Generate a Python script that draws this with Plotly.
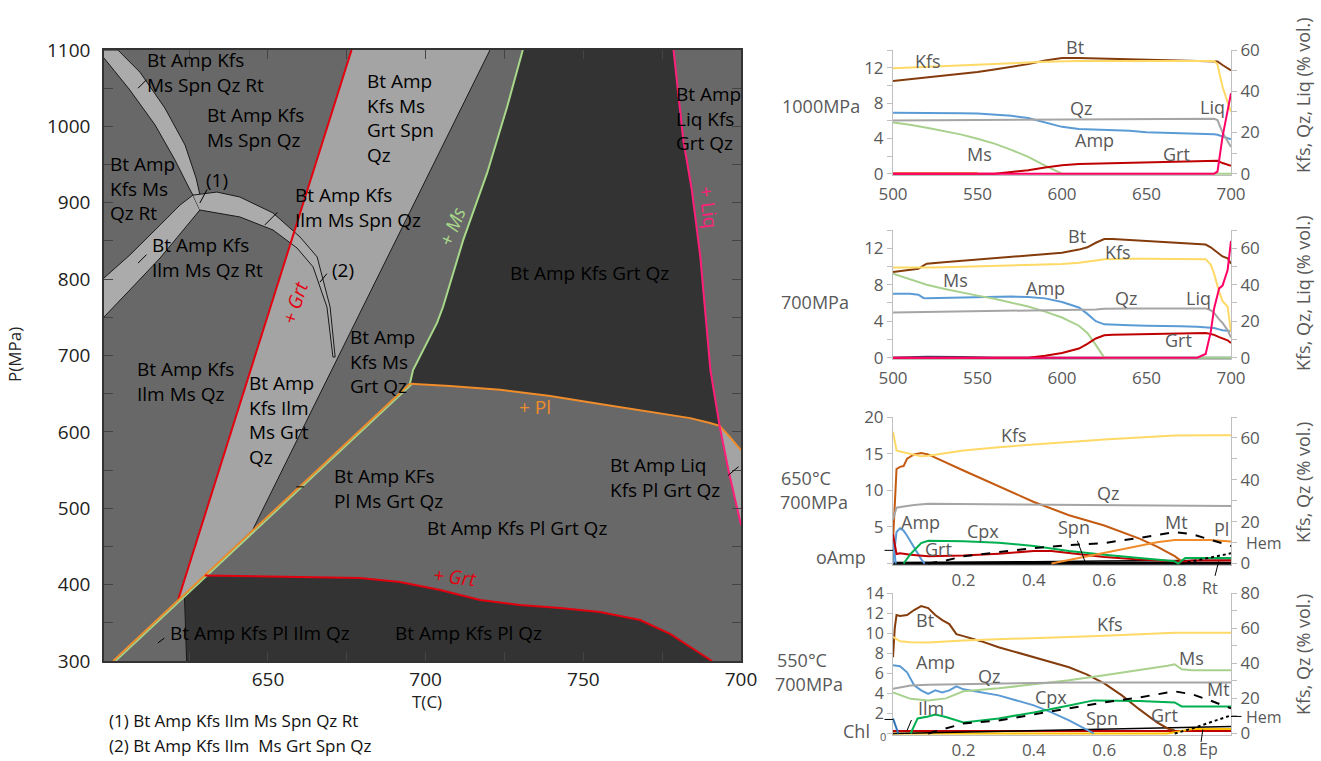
import plotly.graph_objects as go

FONT = "Open Sans"
W, H = 1321, 761

# ================= Phase diagram data (T in C, P in MPa) =================
GRT_HI_T = [621.5, 676.5]
GRT_HI_P = [380, 1100]
PL_DIAG_T = [600.9, 695.0]
PL_DIAG_P = [300, 663]
MS_T = [695.0, 696.0, 703.6, 705.5, 711.9, 719.5, 725.8, 730.8]
MS_P = [663, 681, 742.6, 763.5, 851, 939, 1025, 1100]
SPN_T = [645.3, 720.4]
SPN_P = [473, 1100]
PL_TOP_T = [695.0, 707.7, 723.6, 739.5, 755.3, 771.2, 783.9, 790.2, 793.2, 796.5, 800]
PL_TOP_P = [663, 660, 655, 647, 636.5, 626, 618, 611.6, 608, 593, 576]
LIQ_T = [778.6, 781.7, 784.4, 787.1, 790.3, 793.2, 796.0, 800]
LIQ_P = [1100, 982, 916.7, 829.4, 681, 608, 550, 478]
GRT_LO_T = [630.0, 660.2, 679.2, 691.9, 704.6, 717.3, 729.9, 742.6, 755.3, 768.0, 777.5, 785.4, 790.8]
GRT_LO_P = [412, 410, 408.7, 403.5, 393, 380, 373.3, 369.4, 364.2, 353.7, 335.4, 314.4, 300]
ILM_OUT_T = [623.5, 624.2]
ILM_OUT_P = [387, 300]

BAND1_A_T = [598, 606.2, 614.2, 620.5, 625.3, 628.1]
BAND1_A_P = [1089.5, 1047.6, 1001.8, 956, 916.7, 897]
BAND1_B_T = [602.4, 609.4, 617.3, 623.7, 627.2, 628.8]
BAND1_B_P = [1100, 1071, 1024, 975.6, 932.4, 903.6]
BAND2_A_T = [598, 606.2, 615.8, 622.1, 626.2]
BAND2_A_P = [801.5, 831.6, 870.9, 897, 910]
BAND2_B_T = [598, 606.2, 615.8, 623.7, 628.4]
BAND2_B_P = [750.4, 785.8, 827.7, 867, 890.5]
BAND3_A_T = [626.2, 633.8, 641.1, 651.6, 660.2, 665.6, 669.7, 671.3]
BAND3_A_P = [910, 914, 907.5, 886.6, 855, 829, 763.5, 698]
BAND3_B_T = [628.4, 641.1, 651.6, 659.2, 664.3, 668.7, 670.6]
BAND3_B_P = [890.5, 881.4, 864.3, 840.8, 816, 763.5, 698]

T_TICKS = [625, 650, 675, 700, 725, 750, 775, 800]
T_TICKTEXT = ["", "650", "", "700", "", "750", "", "700"]
P_TICKS = [300, 350, 400, 450, 500, 550, 600, 650, 700, 750, 800, 850, 900, 950, 1000, 1050, 1100]
P_TICKTEXT = ["300", "", "400", "", "500", "", "600", "", "700", "", "800", "", "900", "", "1000", "", "1100"]

# ================= Panel 1: 1000 MPa =================
T1 = [500, 510, 520, 530, 540, 550, 560, 570, 580, 590, 600, 610, 620, 630, 640, 650, 660, 670, 680, 690, 692, 695, 700]
BT_1000 = [10.5, 10.7, 10.9, 11.1, 11.3, 11.5, 11.8, 12.1, 12.4, 12.8, 13.1, 13.1, 13.05, 13.0, 12.95, 12.9, 12.9, 12.85, 12.8, 12.75, 12.7, 12.3, 11.7]
KFS_1000 = [51.2, 51.5, 51.8, 52.1, 52.4, 52.7, 53.0, 53.4, 53.9, 54.3, 54.6, 54.7, 54.7, 54.7, 54.7, 54.7, 54.7, 54.7, 54.7, 54.7, 53.0, 42.0, 30.0]
QZ_1000 = [25.8, 25.85, 25.9, 25.95, 26.0, 26.05, 26.1, 26.15, 26.2, 26.25, 26.3, 26.35, 26.4, 26.4, 26.45, 26.45, 26.5, 26.5, 26.5, 26.6, 26.0, 20.0, 13.0]
AMP_1000 = [6.9, 6.9, 6.9, 6.85, 6.85, 6.8, 6.7, 6.55, 6.3, 5.8, 5.3, 5.05, 5.0, 4.9, 4.85, 4.7, 4.65, 4.6, 4.55, 4.45, 4.4, 4.2, 3.9]
MS_1000 = [5.8, 5.55, 5.2, 4.85, 4.45, 3.95, 3.4, 2.7, 1.9, 0.9, 0.0, 0, 0, 0, 0, 0, 0, 0, 0, 0, 0, 0, 0]
GRT_1000 = [0, 0, 0, 0, 0, 0, 0, 0.2, 0.4, 0.7, 0.95, 1.1, 1.15, 1.2, 1.25, 1.3, 1.35, 1.4, 1.45, 1.5, 1.45, 1.2, 0.9]
LIQ_1000 = [0, 0, 0, 0, 0, 0, 0, 0, 0, 0, 0, 0, 0, 0, 0, 0, 0, 0, 0, 0, 1, 18, 39]
PL_1000_T = [500, 550]
PL_1000 = [0.05, 0.05]

# ================= Panel 2: 700 MPa =================
T2 = [500, 510, 515, 518, 520, 530, 540, 550, 560, 570, 580, 590, 600, 610, 615, 620, 625, 630, 640, 650, 660, 670, 680, 685, 688, 690, 693, 695, 698, 700]
BT_700 = [9.4, 9.6, 9.75, 10.1, 10.3, 10.45, 10.6, 10.75, 10.9, 11.0, 11.15, 11.3, 11.5, 11.85, 12.1, 12.6, 13.0, 13.0, 12.9, 12.8, 12.7, 12.6, 12.5, 12.4, 12.1, 11.8, 11.3, 11.1, 10.9, 10.3]
KFS_700 = [49.5, 49.3, 49.2, 49.3, 49.4, 49.6, 49.8, 50.0, 50.2, 50.4, 50.7, 51.0, 51.4, 52.0, 52.5, 53.3, 54.0, 54.2, 54.2, 54.2, 54.2, 54.2, 54.2, 54.0, 51.0, 46.0, 36.0, 31.0, 28.0, 14.0]
MS_700 = [9.2, 8.6, 8.3, 8.15, 8.0, 7.55, 7.15, 6.8, 6.45, 6.05, 5.6, 5.05, 4.4, 3.5, 2.7, 1.4, 0, 0, 0, 0, 0, 0, 0, 0, 0, 0, 0, 0, 0, 0]
AMP_700 = [7.0, 7.0, 6.9, 6.55, 6.5, 6.55, 6.6, 6.65, 6.7, 6.7, 6.65, 6.5, 6.1, 5.5, 4.8, 4.0, 3.65, 3.6, 3.55, 3.5, 3.5, 3.45, 3.4, 3.35, 3.3, 3.25, 3.1, 3.0, 2.95, 2.9]
QZ_700 = [24.8, 24.9, 24.95, 25.0, 25.0, 25.1, 25.2, 25.3, 25.4, 25.5, 25.6, 25.7, 25.8, 26.0, 26.2, 26.4, 26.8, 27.0, 27.0, 27.0, 27.0, 27.0, 27.0, 27.0, 26.0, 24.5, 21.0, 19.0, 15.0, 11.0]
GRT_700 = [0, 0, 0, 0, 0, 0, 0, 0, 0, 0, 0, 0.2, 0.5, 1.0, 1.5, 2.1, 2.45, 2.5, 2.55, 2.6, 2.65, 2.7, 2.75, 2.7, 2.6, 2.5, 2.25, 2.1, 1.9, 1.6]
LIQ_700 = [0, 0, 0, 0, 0, 0, 0, 0, 0, 0, 0, 0, 0, 0, 0, 0, 0, 0, 0, 0, 0, 0, 0, 2, 14, 27, 38, 39.5, 48, 64]
ILM_700_T = [500, 520, 540, 560, 700]
ILM_700 = [0.0, 0.1, 0.08, 0.0, 0.0]

# ================= Panel 3: 650 C, 700 MPa =================
KFS3_X = [0, 0.01, 0.02, 0.05, 0.08, 0.1, 0.2, 0.3, 0.4, 0.5, 0.6, 0.7, 0.8, 0.9, 0.96]
KFS3 = [63, 54, 53.5, 52.3, 51.2, 51.5, 54, 55.6, 57, 58.1, 59.2, 60.2, 61.2, 61.3, 61.3]
BT3_X = [0, 0.005, 0.01, 0.02, 0.03, 0.04, 0.06, 0.08, 0.1, 0.2, 0.3, 0.4, 0.5, 0.6, 0.7, 0.75, 0.8, 0.82]
BT3 = [3, 9, 12.9, 13.2, 13.3, 14.3, 14.9, 15.1, 14.9, 12.7, 10.5, 8.4, 6.6, 5.2, 3.4, 2.3, 1.0, 0.3]
QZ3_X = [0, 0.01, 0.03, 0.06, 0.1, 0.3, 0.5, 0.7, 0.96]
QZ3 = [21, 26.7, 27.2, 28, 28.5, 28.3, 28, 27.7, 27.5]
AMP3_X = [0, 0.01, 0.02, 0.03, 0.04, 0.06, 0.08, 0.09]
AMP3 = [0, 4.3, 4.8, 4.5, 3.8, 2.2, 0.6, 0]
OAMP3_X = [0, 0.004, 0.008]
OAMP3 = [3.2, 1.5, 0]
GRT3_X = [0, 0.01, 0.02, 0.05, 0.1, 0.2, 0.3, 0.4, 0.45, 0.5, 0.6, 0.7, 0.8, 0.82, 0.85, 0.96]
GRT3 = [4.0, 1.3, 1.4, 1.2, 1.0, 1.1, 1.35, 1.7, 1.7, 1.45, 0.9, 0.55, 0.3, 0.25, 0.4, 0.4]
CPX3_X = [0.03, 0.05, 0.08, 0.1, 0.2, 0.3, 0.4, 0.5, 0.6, 0.7, 0.8, 0.81, 0.83, 0.96]
CPX3 = [0, 1.3, 2.8, 3.1, 3.05, 2.85, 2.4, 1.7, 1.2, 0.75, 0.3, 0, 0.75, 0.75]
MT3_X = [0.1, 0.15, 0.2, 0.3, 0.4, 0.5, 0.6, 0.7, 0.8, 0.85, 0.9, 0.96]
MT3 = [0, 0.4, 1.0, 1.6, 2.1, 2.5, 2.8, 3.5, 4.3, 4.0, 3.3, 2.4]
PL3_X = [0.45, 0.5, 0.6, 0.7, 0.75, 0.8, 0.9, 0.96]
PL3 = [0, 0.5, 1.5, 2.4, 2.9, 3.2, 3.2, 3.0]
HEM3_X = [0.82, 0.86, 0.9, 0.96]
HEM3 = [0, 0.4, 0.8, 1.4]
SPN3_X = [0, 0.2, 0.4, 0.6, 0.8, 0.96]
SPN3 = [0.1, 0.15, 0.25, 0.35, 0.4, 0.45]
RT3_X = [0, 0.96]
RT3 = [0.05, 0.05]

# ================= Panel 4: 550 C, 700 MPa =================
BT4_X = [0, 0.005, 0.01, 0.02, 0.04, 0.06, 0.08, 0.1, 0.12, 0.14, 0.16, 0.18, 0.2, 0.25, 0.3, 0.4, 0.5, 0.55, 0.6, 0.65, 0.7, 0.75, 0.78, 0.8]
BT4 = [7.6, 10.5, 11.8, 11.7, 11.8, 12.3, 12.7, 12.5, 11.8, 11.3, 10.9, 9.9, 9.7, 9.2, 8.6, 7.6, 6.6, 5.9, 5.0, 3.8, 2.4, 1.1, 0.5, 0.3]
KFS4_X = [0, 0.02, 0.05, 0.1, 0.2, 0.3, 0.4, 0.5, 0.6, 0.7, 0.8, 0.9, 0.96]
KFS4 = [55, 52.5, 52, 51.8, 53, 53.8, 54.5, 55, 55.7, 56.5, 57.3, 57.3, 57.3]
MS4_X = [0, 0.05, 0.1, 0.15, 0.2, 0.3, 0.4, 0.5, 0.6, 0.7, 0.78, 0.8, 0.82, 0.85, 0.96]
MS4 = [4.1, 3.45, 3.3, 3.5, 4.2, 4.5, 4.9, 5.3, 5.8, 6.3, 6.75, 6.9, 6.4, 6.3, 6.3]
AMP4_X = [0, 0.02, 0.04, 0.06, 0.08, 0.1, 0.12, 0.14, 0.16, 0.18, 0.2, 0.3, 0.4, 0.45, 0.5, 0.55, 0.57]
AMP4 = [6.8, 6.7, 6.1, 4.8, 4.3, 3.95, 4.3, 4.1, 4.3, 4.7, 4.4, 3.8, 2.8, 2.1, 1.3, 0.4, 0]
QZ4_X = [0, 0.05, 0.1, 0.3, 0.5, 0.96]
QZ4 = [25.5, 27.3, 27.8, 28.5, 29, 29]
CPX4_X = [0.05, 0.07, 0.1, 0.12, 0.15, 0.2, 0.3, 0.4, 0.5, 0.57, 0.7, 0.8, 0.82, 0.96]
CPX4 = [0, 1.5, 1.7, 1.9, 1.65, 1.1, 1.5, 2.1, 2.8, 3.3, 3.25, 3.1, 2.7, 2.7]
MT4_X = [0.1, 0.15, 0.2, 0.3, 0.4, 0.5, 0.6, 0.7, 0.8, 0.85, 0.9, 0.96]
MT4 = [0, 0.5, 1.0, 1.3, 1.9, 2.5, 3.1, 3.6, 4.2, 3.9, 3.3, 2.5]
HEM4_X = [0.8, 0.85, 0.9, 0.96]
HEM4 = [0, 0.5, 1.1, 1.8]
SPN4_X = [0, 0.2, 0.4, 0.6, 0.8, 0.96]
SPN4 = [0, 0.15, 0.3, 0.45, 0.6, 0.7]
GRT4_X = [0, 0.96]
GRT4 = [0.25, 0.25]
EP4_X = [0, 0.78, 0.85, 0.96]
EP4 = [0, 0, 0.45, 0.45]
CHL4_X = [0, 0.015]
CHL4 = [1.5, 0]

# ================= colours =================
C_MED, C_LIGHT, C_DARK, C_BAND = "#686868", "#a4a4a4", "#333333", "#ababab"
C_RED, C_GREEN, C_ORANGE, C_PINK = "#e3000f", "#a8d88a", "#f08c2a", "#ff1f7a"
C_KFS, C_BT, C_QZ, C_AMP = "#ffd966", "#843c0c", "#a5a5a5", "#5b9bd5"
C_MS, C_GRT, C_LIQ, C_CPX = "#a9d18e", "#c00000", "#ff0066", "#00b050"
C_TXT = "#595959"

fig = go.Figure()


def add_line(x, y, color, width=2, xa="x", ya="y", dash=None):
    fig.add_trace(go.Scatter(x=x, y=y, mode="lines", xaxis=xa, yaxis=ya,
                             line=dict(color=color, width=width, dash=dash),
                             hoverinfo="skip", showlegend=False))


def add_poly(xs, ys, fill, outline=None, width=0):
    fig.add_trace(go.Scatter(x=xs, y=ys, mode="lines", fill="toself", fillcolor=fill,
                             line=dict(color=outline or fill, width=width),
                             xaxis="x", yaxis="y", hoverinfo="skip", showlegend=False))


# ---- phase diagram regions ----
add_poly([GRT_HI_T[0], GRT_HI_T[1], SPN_T[1], SPN_T[0]],
         [GRT_HI_P[0], GRT_HI_P[1], SPN_P[1], SPN_P[0]], C_LIGHT)
add_poly(MS_T + LIQ_T[:6] + PL_TOP_T[7::-1], MS_P + LIQ_P[:6] + PL_TOP_P[7::-1], C_DARK)
add_poly(PL_TOP_T[8:] + LIQ_T[:5:-1], PL_TOP_P[8:] + LIQ_P[:5:-1], C_LIGHT)
add_poly([ILM_OUT_T[0]] + GRT_LO_T + [ILM_OUT_T[1]], [ILM_OUT_P[0]] + GRT_LO_P + [ILM_OUT_P[1]], C_DARK)
add_poly(BAND1_A_T + BAND1_B_T[::-1] + [598], BAND1_A_P + BAND1_B_P[::-1] + [1100], C_BAND, "#1a1a1a", 1)
add_poly(BAND2_A_T + BAND2_B_T[::-1], BAND2_A_P + BAND2_B_P[::-1], C_BAND, "#1a1a1a", 1)
add_poly(BAND3_A_T + BAND3_B_T[::-1], BAND3_A_P + BAND3_B_P[::-1], C_BAND, "#1a1a1a", 1)

# ---- phase diagram boundaries ----
add_line(SPN_T, SPN_P, "#1a1a1a", 1)
add_line(ILM_OUT_T, ILM_OUT_P, "#1a1a1a", 1)
add_line(GRT_HI_T, GRT_HI_P, C_RED, 2)
add_line(PL_DIAG_T, PL_DIAG_P, C_ORANGE, 2)
add_line([t + 0.8 for t in PL_DIAG_T], PL_DIAG_P, C_GREEN, 1.5)
add_line(MS_T, MS_P, C_GREEN, 2)
add_line(PL_TOP_T, PL_TOP_P, C_ORANGE, 2)
add_line(LIQ_T, LIQ_P, C_PINK, 2)
add_line(GRT_LO_T, GRT_LO_P, C_RED, 2)

# ---- panel 1 ----
add_line(T1, BT_1000, C_BT, 2, "x2", "y2")
add_line(T1, AMP_1000, C_AMP, 2, "x2", "y2")
add_line(T1, MS_1000, C_MS, 2, "x2", "y2")
add_line(PL_1000_T, PL_1000, C_ORANGE, 2, "x2", "y2")
add_line(T1, GRT_1000, C_GRT, 2, "x2", "y2")
add_line(T1, KFS_1000, C_KFS, 2, "x2", "y3")
add_line(T1, QZ_1000, C_QZ, 2, "x2", "y3")
add_line(T1, LIQ_1000, C_LIQ, 2, "x2", "y3")

# ---- panel 2 ----
add_line(ILM_700_T, ILM_700, "#1f4e79", 2, "x3", "y4")
add_line(T2, BT_700, C_BT, 2, "x3", "y4")
add_line(T2, AMP_700, C_AMP, 2, "x3", "y4")
add_line(T2, MS_700, C_MS, 2, "x3", "y4")
add_line(T2, GRT_700, C_GRT, 2, "x3", "y4")
add_line(T2, KFS_700, C_KFS, 2, "x3", "y5")
add_line(T2, QZ_700, C_QZ, 2, "x3", "y5")
add_line(T2, LIQ_700, C_LIQ, 2, "x3", "y5")

# ---- panel 3 ----
add_line(RT3_X, RT3, "#000000", 3, "x4", "y6")
add_line(SPN3_X, SPN3, "#000000", 1.5, "x4", "y6")
add_line(BT3_X, BT3, "#c55a11", 2, "x4", "y6")
add_line(OAMP3_X, OAMP3, C_AMP, 2, "x4", "y6")
add_line(AMP3_X, AMP3, C_AMP, 2, "x4", "y6")
add_line(GRT3_X, GRT3, C_GRT, 2, "x4", "y6")
add_line(CPX3_X, CPX3, C_CPX, 2, "x4", "y6")
add_line(PL3_X, PL3, C_ORANGE, 2, "x4", "y6")
add_line(MT3_X, MT3, "#000000", 2, "x4", "y6", "dash")
add_line(HEM3_X, HEM3, "#000000", 2, "x4", "y6", "dot")
add_line(KFS3_X, KFS3, C_KFS, 2, "x4", "y7")
add_line(QZ3_X, QZ3, C_QZ, 2, "x4", "y7")

# ---- panel 4 ----
add_line(GRT4_X, GRT4, C_GRT, 2, "x5", "y8")
add_line(EP4_X, EP4, "#ffc000", 2, "x5", "y8")
add_line(SPN4_X, SPN4, "#000000", 1.5, "x5", "y8")
add_line(CHL4_X, CHL4, "#2e75b6", 2, "x5", "y8")
add_line(BT4_X, BT4, C_BT, 2, "x5", "y8")
add_line(AMP4_X, AMP4, C_AMP, 2, "x5", "y8")
add_line(MS4_X, MS4, C_MS, 2, "x5", "y8")
add_line(CPX4_X, CPX4, C_CPX, 2, "x5", "y8")
add_line(MT4_X, MT4, "#000000", 2, "x5", "y8", "dash")
add_line(HEM4_X, HEM4, "#000000", 2, "x5", "y8", "dot")
add_line(KFS4_X, KFS4, C_KFS, 2, "x5", "y9")
add_line(QZ4_X, QZ4, C_QZ, 2, "x5", "y9")

# ================= annotations =================
ann = []


def txt(x, y, text, xref="x", yref="y", size=19, color="black", xanchor="center",
        angle=0, align="center", italic=False):
    if italic:
        text = "<i>" + text + "</i>"
    ann.append(dict(x=x, y=y, xref=xref, yref=yref, text=text, showarrow=False,
                    font=dict(family=FONT, size=size, color=color), xanchor=xanchor,
                    yanchor="middle", textangle=angle, align=align))


def ptxt(px, py, text, size=18, color=C_TXT, xanchor="center", angle=0):
    txt(px / W, 1 - py / H, text, "paper", "paper", size, color, xanchor, angle)


def lead(x, y, ax, ay, xref="x", yref="y", color="black"):
    ann.append(dict(x=x, y=y, xref=xref, yref=yref, text="", showarrow=True,
                    arrowhead=0, arrowwidth=1, arrowcolor=color, ax=ax, ay=ay))


# phase diagram labels
txt(611, 1070.5, "Bt Amp Kfs<br>Ms Spn Qz Rt", xanchor="left", align="left")
txt(630, 998, "Bt Amp Kfs<br>Ms Spn Qz", xanchor="left", align="left")
txt(599.3, 919, "Bt Amp<br>Kfs Ms<br>Qz Rt", xanchor="left", align="left")
txt(633.7, 930, "(1)")
txt(612.6, 828.3, "Bt Amp Kfs<br>Ilm Ms Qz Rt", xanchor="left", align="left")
txt(673.9, 812, "(2)")
txt(658, 893.8, "Bt Amp Kfs<br>Ilm Ms Spn Qz", xanchor="left", align="left")
txt(680.8, 1011, "Bt Amp<br>Kfs Ms<br>Grt Spn<br>Qz", xanchor="left", align="left")
txt(752, 808.4, "Bt Amp Kfs Grt Qz")
txt(778.6, 1010.6, "Bt Amp<br>Liq Kfs<br>Grt Qz", xanchor="left", align="left")
txt(675.4, 691.5, "Bt Amp<br>Kfs Ms<br>Grt Qz", xanchor="left", align="left")
txt(607.8, 666.6, "Bt Amp Kfs<br>Ilm Ms Qz", xanchor="left", align="left")
txt(643.4, 615.6, "Bt Amp<br>Kfs Ilm<br>Ms Grt<br>Qz", xanchor="left", align="left")
txt(670.3, 526, "Bt Amp KFs<br>Pl Ms Grt Qz", xanchor="left", align="left")
txt(729, 474.2, "Bt Amp Kfs Pl Grt Qz")
txt(757.8, 540.3, "Bt Amp Liq<br>Kfs Pl Grt Qz", xanchor="left", align="left")
txt(618.3, 336.7, "Bt Amp Kfs Pl Ilm Qz", xanchor="left")
txt(689.7, 336.7, "Bt Amp Kfs Pl Qz", xanchor="left")
txt(658.6, 768.4, "+ Grt", color=C_RED, angle=-72, italic=True)
txt(708.3, 868.7, "+ Ms", color=C_GREEN, angle=-68, italic=True)
txt(789.7, 894.8, "+ Liq", color=C_PINK, angle=83)
txt(734.7, 632.6, "+ Pl", color=C_ORANGE)
txt(709.3, 410, "+ Grt", color=C_RED, angle=6, italic=True)
lead(628.4, 899.7, 8, -15)
lead(608.8, 1050, 10, -10)
lead(608.8, 821, 10, -10)
lead(649.0, 871, 14, -14)
lead(666.5, 796, 8, -10)
lead(659.0, 528, 9, 0)
lead(615.1, 323.6, 8, -6)
lead(795.9, 543, 12, -10)

ptxt(15, 355, "P(MPa)", 17, "#222", angle=-90)
ptxt(427, 701, "T(C)", 17, "#222")
ptxt(107, 720, "(1) Bt Amp Kfs Ilm Ms Spn Qz Rt", 17, "#111", xanchor="left")
ptxt(107, 745, "(2) Bt Amp Kfs Ilm  Ms Grt Spn Qz", 17, "#111", xanchor="left")

# panel 1 labels
RS = 18
txt(521, 12.8, "Kfs", "x2", "y2", RS, C_TXT)
ptxt(1075, 47, "Bt")
txt(611, 7.4, "Qz", "x2", "y2", RS, C_TXT)
txt(689, 7.6, "Liq", "x2", "y2", RS, C_TXT)
txt(619, 3.8, "Amp", "x2", "y2", RS, C_TXT)
txt(551, 2.2, "Ms", "x2", "y2", RS, C_TXT)
txt(668, 2.2, "Grt", "x2", "y2", RS, C_TXT)
ptxt(821, 106, "1000MPa")
# panel 2 labels
txt(609, 13.3, "Bt", "x3", "y4", RS, C_TXT)
txt(633, 11.6, "Kfs", "x3", "y4", RS, C_TXT)
txt(537, 8.5, "Ms", "x3", "y4", RS, C_TXT)
txt(590, 7.6, "Amp", "x3", "y4", RS, C_TXT)
txt(638, 6.5, "Qz", "x3", "y4", RS, C_TXT)
txt(681, 6.5, "Liq", "x3", "y4", RS, C_TXT)
txt(669, 1.9, "Grt", "x3", "y4", RS, C_TXT)
ptxt(815, 302, "700MPa")
# panel 3 labels
txt(0.345, 17.5, "Kfs", "x4", "y6", RS, C_TXT)
txt(0.612, 9.6, "Qz", "x4", "y6", RS, C_TXT)
txt(0.077, 5.7, "Amp", "x4", "y6", RS, C_TXT)
txt(0.256, 4.5, "Cpx", "x4", "y6", RS, C_TXT)
txt(0.515, 5.0, "Spn", "x4", "y6", RS, C_TXT)
txt(0.804, 5.7, "Mt", "x4", "y6", RS, C_TXT)
txt(0.934, 4.7, "Pl", "x4", "y6", RS, C_TXT)
txt(0.128, 2.0, "Grt", "x4", "y6", RS, C_TXT)
ptxt(1264, 543, "Hem", 16)
ptxt(841, 557, "oAmp")
ptxt(1210, 588, "Rt", 16)
ptxt(806, 478, "650°C")
ptxt(814, 502, "700MPa")
lead(0.0, 1.8, -10, 0, "x4", "y6")
lead(0.545, 0.3, -8, -22, "x4", "y6")
lead(0.925, 0.3, -4, 16, "x4", "y6")
# panel 4 labels
txt(0.09, 11.3, "Bt", "x5", "y8", RS, C_TXT)
txt(0.615, 10.9, "Kfs", "x5", "y8", RS, C_TXT)
txt(0.847, 7.5, "Ms", "x5", "y8", RS, C_TXT)
txt(0.122, 7.1, "Amp", "x5", "y8", RS, C_TXT)
txt(0.272, 5.7, "Qz", "x5", "y8", RS, C_TXT)
txt(0.924, 4.4, "Mt", "x5", "y8", RS, C_TXT)
txt(0.45, 3.6, "Cpx", "x5", "y8", RS, C_TXT)
txt(0.107, 2.5, "Ilm", "x5", "y8", RS, C_TXT)
txt(0.594, 1.5, "Spn", "x5", "y8", RS, C_TXT)
txt(0.77, 1.8, "Grt", "x5", "y8", RS, C_TXT)
ptxt(1264, 717, "Hem", 16)
ptxt(856, 731, "Chl")
ptxt(1208, 749, "Ep", 16)
ptxt(802, 660, "550°C")
ptxt(809, 684, "700MPa")
ptxt(888, 736, "0", 11, xanchor="right")
lead(0.96, 1.7, 12, 0, "x5", "y8")
lead(0.88, 0.4, -2, 14, "x5", "y8")
lead(0.0, 1.4, -10, 0, "x5", "y8")
lead(0.04, 0.3, 5, -12, "x5", "y8")

# right-axis titles
ptxt(1303, 95, "Kfs, Qz, Liq (% vol.)", angle=-90)
ptxt(1303, 293, "Kfs, Qz, Liq (% vol.)", angle=-90)
ptxt(1303, 483, "Kfs, Qz (% vol.)", angle=-90)
ptxt(1303, 655, "Kfs, Qz (% vol.)", angle=-90)


# ================= axes =================
def ydom(top, bottom):
    return [1 - bottom / H, 1 - top / H]


XD_R = [893 / W, 1231 / W]
AX_C = "#bfbfbf"
TF = dict(family=FONT, size=17, color=C_TXT)


def left_ax(dom, anchor, rng, ticks, minor, size=17):
    return dict(domain=dom, anchor=anchor, range=rng, tickvals=ticks, showline=True,
                linecolor=AX_C, linewidth=1, ticks="outside", ticklen=5, tickcolor=AX_C,
                minor=dict(ticks="outside", dtick=minor, ticklen=5, tickcolor=AX_C),
                showgrid=False, zeroline=False, tickfont=dict(TF, size=size),
                fixedrange=True, automargin=False)


def right_ax(over, anchor, rng, ticks, minor):
    return dict(overlaying=over, anchor=anchor, side="right", range=rng, tickvals=ticks,
                showline=True, linecolor=AX_C, linewidth=1, ticks="outside", ticklen=5,
                tickcolor=AX_C, minor=dict(ticks="outside", dtick=minor, ticklen=5, tickcolor=AX_C),
                showgrid=False, zeroline=False, tickfont=TF, fixedrange=True, automargin=False)


def bottom_ax(anchor, rng, ticks, standoff=0):
    return dict(domain=XD_R, anchor=anchor, range=rng, tickvals=ticks, showline=True,
                linecolor=AX_C, linewidth=1, ticks="", showgrid=False, zeroline=False,
                tickfont=TF, fixedrange=True, automargin=False, ticklabelstandoff=standoff)


fig.update_layout(
    width=W, height=H, autosize=False,
    margin=dict(l=0, r=0, t=0, b=0, pad=0, autoexpand=False),
    paper_bgcolor="white", plot_bgcolor="rgba(0,0,0,0)", showlegend=False,
    font=dict(family=FONT, color="#222"),
    xaxis=dict(domain=[104 / W, 741 / W], anchor="y", range=[598, 800],
               tickvals=T_TICKS, ticktext=T_TICKTEXT, ticks="inside", ticklen=9,
               tickcolor="#444", tickwidth=1, mirror="allticks", showline=True,
               linecolor="#333", linewidth=1.5, showgrid=False, zeroline=False,
               tickfont=dict(family=FONT, size=19, color="#222"), fixedrange=True,
               automargin=False),
    yaxis=dict(domain=ydom(50, 661), anchor="x", range=[300, 1100],
               tickvals=P_TICKS, ticktext=P_TICKTEXT, ticks="inside", ticklen=9,
               tickcolor="#444", tickwidth=1, mirror="allticks", showline=True,
               linecolor="#333", linewidth=1.5, showgrid=False, zeroline=False,
               ticklabelstandoff=8,
               tickfont=dict(family=FONT, size=19, color="#222"), fixedrange=True,
               automargin=False),
    xaxis2=bottom_ax("y2", [500, 700], [500, 550, 600, 650, 700], 4),
    yaxis2=left_ax(ydom(50, 175), "x2", [-0.15, 14], [0, 4, 8, 12], 2),
    yaxis3=right_ax("y2", "x2", [-0.15 * 60 / 14, 60], [0, 20, 40, 60], 10),
    xaxis3=bottom_ax("y4", [500, 700], [500, 550, 600, 650, 700], 4),
    yaxis4=left_ax(ydom(230, 359), "x3", [-0.15, 14], [0, 4, 8, 12], 2),
    yaxis5=right_ax("y4", "x3", [-0.15 * 70 / 14, 70], [0, 20, 40, 60], 10),
    xaxis4=bottom_ax("y6", [0, 0.96], [0.2, 0.4, 0.6, 0.8]),
    yaxis6=left_ax(ydom(417, 565), "x4", [-0.2, 20], [5, 10, 15, 20], 5),
    yaxis7=right_ax("y6", "x4", [-0.7, 70], [0, 20, 40, 60], 10),
    xaxis5=bottom_ax("y8", [0, 0.96], [0.2, 0.4, 0.6, 0.8]),
    yaxis8=left_ax(ydom(593, 735), "x5", [-0.15, 14], [2, 4, 6, 8, 10, 12, 14], 2, 16),
    yaxis9=right_ax("y8", "x5", [-0.15 * 80 / 14, 80], [0, 20, 40, 60, 80], 10),
    annotations=ann,
)

# medium-grey background for the phase diagram (drawn behind everything)
fig.add_shape(type="rect", xref="x domain", yref="y domain", x0=0, x1=1, y0=0, y1=1,
              fillcolor=C_MED, line=dict(width=0), layer="below")

fig.write_html("out.html", config={"displayModeBar": False},
               post_script="document.body.style.margin='0px';")
